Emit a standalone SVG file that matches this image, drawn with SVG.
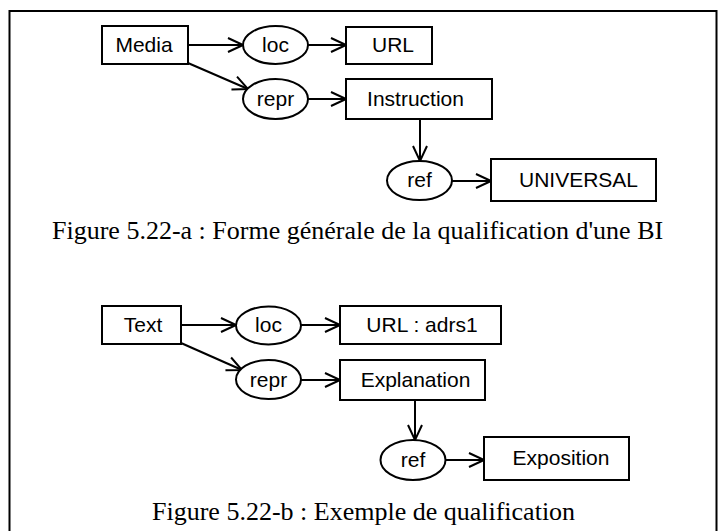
<svg xmlns="http://www.w3.org/2000/svg" width="718" height="531" viewBox="0 0 718 531">
<defs>
<marker id="arr" markerUnits="userSpaceOnUse" markerWidth="18" markerHeight="18" viewBox="0 0 18 18" refX="16" refY="9" orient="auto">
<path d="M1,2 L16,9 L1,16" fill="none" stroke="#000" stroke-width="2"/>
</marker>
</defs>
<style>
.box{fill:#fff;stroke:#000;stroke-width:2}
.lbl{font-family:"Liberation Sans",Arial,sans-serif;font-size:21px;fill:#000;text-anchor:middle}
.cap{font-family:"Liberation Serif","Times New Roman",serif;font-size:26px;fill:#000}
.edge{fill:none;stroke:#000;stroke-width:2;marker-end:url(#arr)}
</style>
<rect x="0" y="0" width="718" height="531" fill="#fff"/>
<path d="M9.5,540 L9.5,11 L716.5,11 L716.5,540" fill="none" stroke="#000" stroke-width="2"/>

<g id="connectors">
<path class="edge" d="M188,45 L243,45"/>
<path class="edge" d="M188,63 L248,89"/>
<path class="edge" d="M308,45 L346,45"/>
<path class="edge" d="M308,99 L346,99"/>
<path class="edge" d="M420,119 L420,161"/>
<path class="edge" d="M452,181 L491,181"/>
<path class="edge" d="M181,325 L236,325"/>
<path class="edge" d="M181,343 L242,370"/>
<path class="edge" d="M301,325 L340,325"/>
<path class="edge" d="M301,380 L340,380"/>
<path class="edge" d="M415,400 L415,440"/>
<path class="edge" d="M446,460 L484,460"/>
</g>

<g id="a-media"><rect class="box" x="102" y="26" width="86" height="38"/><text class="lbl" x="144" y="52">Media</text></g>
<g id="a-loc"><ellipse class="box" cx="275.5" cy="45" rx="32.5" ry="19"/><text class="lbl" x="275.5" y="52">loc</text></g>
<g id="a-repr"><ellipse class="box" cx="275.5" cy="99" rx="32.5" ry="20"/><text class="lbl" x="275.5" y="106">repr</text></g>
<g id="a-url"><rect class="box" x="346" y="27" width="86" height="37"/><text class="lbl" x="393" y="52">URL</text></g>
<g id="a-instruction"><rect class="box" x="346" y="79" width="146" height="40"/><text class="lbl" x="415.5" y="106">Instruction</text></g>
<g id="a-ref"><ellipse class="box" cx="419.5" cy="180.5" rx="32.5" ry="19.5"/><text class="lbl" x="419.5" y="187">ref</text></g>
<g id="a-universal"><rect class="box" x="491" y="159" width="165" height="42"/><text class="lbl" x="578.5" y="187">UNIVERSAL</text></g>
<text class="cap" x="52" y="239">Figure 5.22-a : Forme générale de la qualification d'une BI</text>

<g id="b-text"><rect class="box" x="102" y="306" width="79" height="38"/><text class="lbl" x="143" y="332">Text</text></g>
<g id="b-loc"><ellipse class="box" cx="268.5" cy="325.5" rx="32.5" ry="19"/><text class="lbl" x="268.5" y="332">loc</text></g>
<g id="b-repr"><ellipse class="box" cx="268.5" cy="379.5" rx="32.5" ry="19.5"/><text class="lbl" x="268.5" y="386.5">repr</text></g>
<g id="b-url"><rect class="box" x="340" y="306" width="161" height="38"/><text class="lbl" x="422" y="332">URL : adrs1</text></g>
<g id="b-explanation"><rect class="box" x="340" y="360" width="145" height="40"/><text class="lbl" x="415.5" y="387">Explanation</text></g>
<g id="b-ref"><ellipse class="box" cx="413" cy="460" rx="32.5" ry="20"/><text class="lbl" x="413" y="467">ref</text></g>
<g id="b-exposition"><rect class="box" x="484" y="437" width="145" height="43"/><text class="lbl" x="561" y="465">Exposition</text></g>
<text class="cap" x="152" y="520">Figure 5.22-b : Exemple de qualification</text>
</svg>
